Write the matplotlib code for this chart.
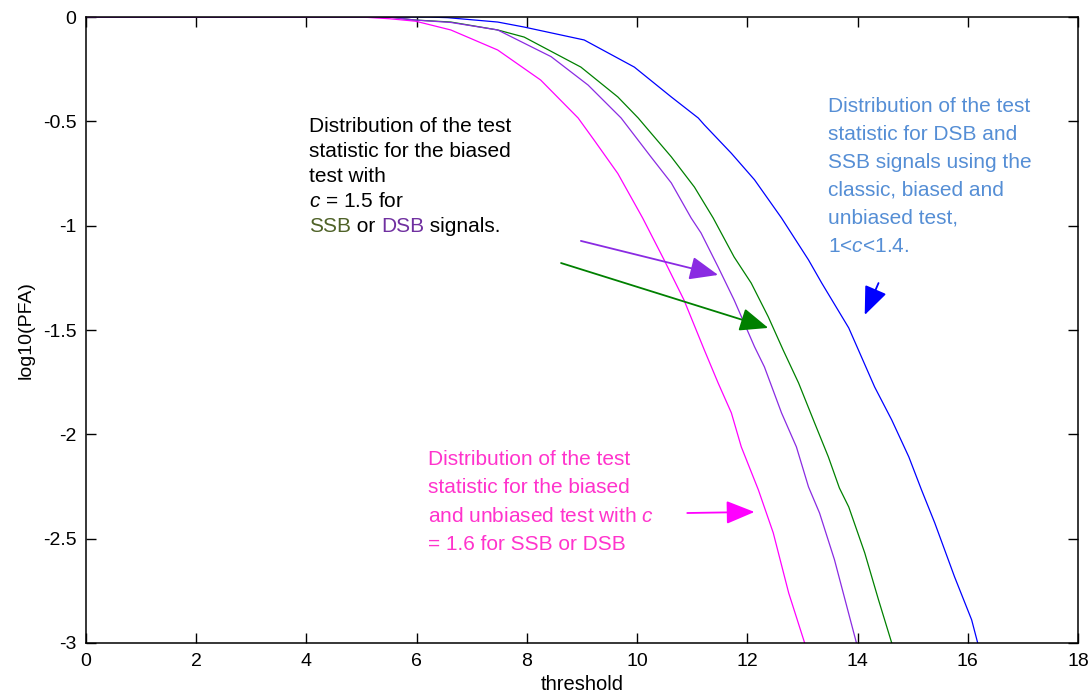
import numpy as np
import matplotlib
matplotlib.use("Agg")
import matplotlib.pyplot as plt

plt.rcParams['font.family'] = ['Liberation Sans', 'DejaVu Sans']
plt.rcParams['mathtext.fontset'] = 'custom'
plt.rcParams['mathtext.it'] = 'Liberation Sans:italic'
plt.rcParams['mathtext.rm'] = 'Liberation Sans'
plt.rcParams['axes.unicode_minus'] = False

# empirical log10(PFA) curves vs threshold
thr_c16 = [0, 5.0, 5.5, 5.98, 6.62, 7.47, 8.25, 8.93, 9.22, 9.65, 10.1, 10.49, 10.85,
           11.22, 11.47, 11.71, 11.89, 12.2, 12.47, 12.75, 13.04]
pfa_c16 = [0, 0, -0.008, -0.02, -0.062, -0.158, -0.302, -0.484, -0.59, -0.75, -0.963,
           -1.164, -1.356, -1.596, -1.754, -1.897, -2.06, -2.266, -2.472, -2.76, -3.0]

thr_dsb = [0, 5.5, 5.95, 6.62, 7.47, 8.44, 9.11, 9.71, 10.25, 10.62, 10.98, 11.16,
           11.47, 11.76, 12.13, 12.31, 12.62, 12.89, 13.11, 13.31, 13.58, 13.76, 13.98]
pfa_dsb = [0, 0, -0.014, -0.026, -0.062, -0.19, -0.326, -0.484, -0.67, -0.795, -0.963,
           -1.035, -1.198, -1.356, -1.58, -1.677, -1.897, -2.06, -2.252, -2.377, -2.6,
           -2.78, -3.0]

thr_ssb = [0, 5.5, 5.95, 6.62, 7.47, 7.95, 8.98, 9.65, 10.02, 10.2, 10.62, 11.04,
           11.38, 11.76, 12.07, 12.38, 12.65, 12.93, 13.22, 13.47, 13.67, 13.84,
           14.13, 14.38, 14.62]
pfa_ssb = [0, 0, -0.014, -0.024, -0.062, -0.096, -0.24, -0.383, -0.484, -0.54, -0.67,
           -0.815, -0.963, -1.15, -1.275, -1.437, -1.596, -1.754, -1.945, -2.108,
           -2.257, -2.348, -2.568, -2.793, -3.0]

thr_classic = [0, 6.2, 6.56, 7.47, 7.95, 9.04, 9.95, 10.62, 11.11, 11.22, 11.71, 12.13,
               12.62, 13.11, 13.35, 13.84, 14.31, 14.62, 14.93, 15.16, 15.4, 15.76,
               16.07, 16.18]
pfa_classic = [0, 0, -0.003, -0.024, -0.048, -0.11, -0.24, -0.383, -0.484, -0.517,
               -0.653, -0.78, -0.963, -1.164, -1.275, -1.49, -1.773, -1.931, -2.108,
               -2.266, -2.424, -2.683, -2.889, -3.0]

xticks = np.arange(0, 19, 2)
yticks = [0, -0.5, -1, -1.5, -2, -2.5, -3]
ytick_labels = ['0', '-0.5', '-1', '-1.5', '-2', '-2.5', '-3']

fig = plt.figure(figsize=(10.9, 6.98), dpi=100)
ax = fig.add_axes([0.0789, 0.0788, 0.9101, 0.8968])

ax.plot(thr_classic, pfa_classic, color='#0000FF', lw=0.9)
ax.plot(thr_ssb, pfa_ssb, color='#008000', lw=0.9)
ax.plot(thr_c16, pfa_c16, color='#FF00FF', lw=0.9)
ax.plot(thr_dsb, pfa_dsb, color='#8A2BE2', lw=0.9)

ax.set_xlim(0, 18)
ax.set_ylim(-3, 0)
ax.set_xticks(xticks)
ax.set_yticks(yticks)
ax.set_yticklabels(ytick_labels)
ax.tick_params(direction='in', top=True, right=True, length=7, width=1,
               labelsize=14, pad=7)
for s in ax.spines.values():
    s.set_linewidth(1.1)
ax.set_xlabel('threshold', fontsize=14.5, labelpad=4)
ax.set_ylabel('log10(PFA)', fontsize=14, labelpad=6)

FS = 15


def text_lines(x, y, lines, color, dy_px):
    out = []
    for i, ln in enumerate(lines):
        t = ax.annotate(ln, xy=(x, y), xytext=(0, -i * dy_px * 0.72),
                        textcoords='offset points', color=color, fontsize=FS,
                        ha='left', va='baseline')
        out.append(t)
    return out


# black annotation, last line split into colours
blk = text_lines(4.05, -0.551, ['Distribution of the test', 'statistic for the biased',
                                'test with', '$c$ = 1.5 for'], 'black', 25)
t1 = ax.annotate('SSB', xy=(4.05, -0.551), xytext=(0, -4 * 25 * 0.72),
                 textcoords='offset points', color='#4F6228', fontsize=FS,
                 ha='left', va='baseline')
t2 = ax.annotate(' or ', xy=(1, 0), xycoords=t1, color='black', fontsize=FS,
                 ha='left', va='bottom')
t3 = ax.annotate('DSB', xy=(1, 0), xycoords=t2, color='#7030A0', fontsize=FS,
                 ha='left', va='bottom')
t4 = ax.annotate(' signals.', xy=(1, 0), xycoords=t3, color='black', fontsize=FS,
                 ha='left', va='bottom')

text_lines(13.47, -0.455, ['Distribution of the test', 'statistic for DSB and',
                           'SSB signals using the', 'classic, biased and',
                           'unbiased test,', '1<$c$<1.4.'], '#558ED5', 28)

text_lines(6.2, -2.147, ['Distribution of the test', 'statistic for the biased',
                         'and unbiased test with $c$', '= 1.6 for SSB or DSB'],
           '#FF33CC', 28.3)

# arrows pointing at the curves
arrows = [((8.98, -1.073), (11.47, -1.236), '#8A2BE2'),
          ((8.62, -1.179), (12.38, -1.49), '#008000'),
          ((14.38, -1.275), (14.13, -1.428), '#0000FF'),
          ((10.91, -2.377), (12.13, -2.372), '#FF00FF')]
for tail, tip, col in arrows:
    ax.annotate('', xy=tip, xytext=tail,
                arrowprops=dict(arrowstyle='-|>,head_length=1.1,head_width=0.45',
                                color=col, lw=1.3, mutation_scale=16,
                                shrinkA=0, shrinkB=0))

fig.savefig('out.png', dpi=100)
